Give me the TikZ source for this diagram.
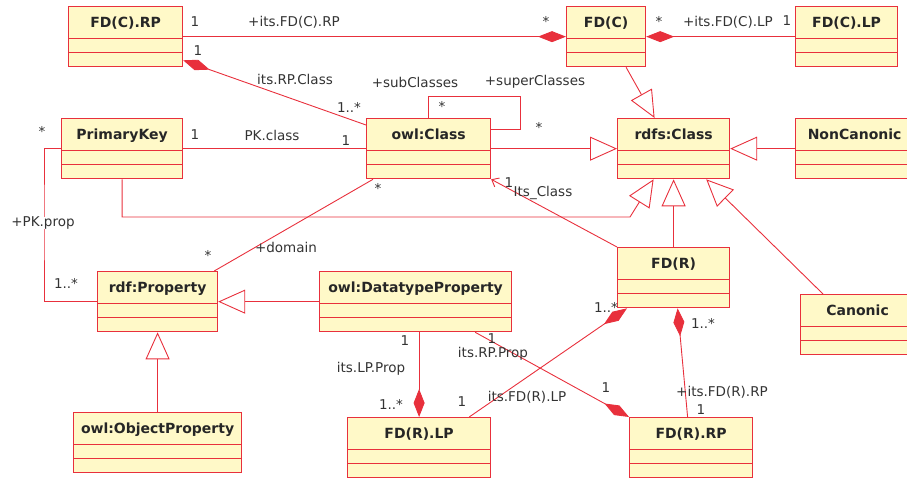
\documentclass[tikz,border=0pt]{standalone}
\usepackage{fontspec}
\setmainfont{DejaVu Sans}
\usetikzlibrary{arrows.meta,shapes.multipart}

\definecolor{umlrot}{RGB}{232,48,60}
\definecolor{umlgelb}{RGB}{255,249,200}
\newcommand{\kopf}[1]{\rule[-6.7pt]{0pt}{23.5pt}#1}

\begin{document}
\begin{tikzpicture}[x=1pt,y=-1pt,
	klasse/.style={draw=umlrot,line width=1.2pt,fill=umlgelb,rectangle split,rectangle split parts=3,
		rectangle split empty part height=6pt,rectangle split empty part depth=0pt,
		inner ysep=3.5pt,anchor=north west,text=black!85,font=\fontsize{14}{16}\selectfont\bfseries},
	linie/.style={draw=umlrot,line width=.9pt},
	komp/.style={linie,-{Diamond[length=28pt,width=11pt]}},
	vererbung/.style={linie,-{Triangle[length=27pt,width=24pt,fill=white]}},
	navi/.style={linie,-{Straight Barb[length=6pt,width=10pt]}},
	rolle/.style={inner sep=0pt,text=black!80,font=\fontsize{13.5}{15}\selectfont}]

\useasboundingbox (0,0) rectangle (907,480);

%-------------------------------------------------------------------------------
% Klassen
%-------------------------------------------------------------------------------
\node (fdcrp)		[klasse,minimum width=114pt] at (68,6)	{\kopf{FD(C).RP}\nodepart{two}\nodepart{three}};
\node (fdc)		[klasse,minimum width=79pt] at (566,6)	{\kopf{FD(C)}\nodepart{two}\nodepart{three}};
\node (fdclp)		[klasse,minimum width=102pt] at (795,6)	{\kopf{FD(C).LP}\nodepart{two}\nodepart{three}};

\node (primarykey)	[klasse,minimum width=121pt] at (61,118)	{\kopf{PrimaryKey}\nodepart{two}\nodepart{three}};
\node (owlclass)	[klasse,minimum width=124pt] at (366,118)	{\kopf{owl:Class}\nodepart{two}\nodepart{three}};
\node (rdfsclass)	[klasse,minimum width=112pt] at (617,118)	{\kopf{rdfs:Class}\nodepart{two}\nodepart{three}};
\node (noncanonic)	[klasse,minimum width=118pt] at (795,118)	{\kopf{NonCanonic}\nodepart{two}\nodepart{three}};

\node (fdr)		[klasse,minimum width=112pt] at (617,247)	{\kopf{FD(R)}\nodepart{two}\nodepart{three}};
\node (canonic)		[klasse,minimum width=114pt] at (800,294)	{\kopf{Canonic}\nodepart{two}\nodepart{three}};
\node (rdfproperty)	[klasse,minimum width=120pt] at (97,271)	{\kopf{rdf:Property}\nodepart{two}\nodepart{three}};
\node (dtprop)		[klasse,minimum width=192pt] at (319,271)	{\kopf{owl:DatatypeProperty}\nodepart{two}\nodepart{three}};

\node (objprop)		[klasse,minimum width=168pt] at (73,412)	{\kopf{owl:ObjectProperty}\nodepart{two}\nodepart{three}};
\node (fdrlp)		[klasse,minimum width=143pt] at (347,417)	{\kopf{FD(R).LP}\nodepart{two}\nodepart{three}};
\node (fdrrp)		[klasse,minimum width=123pt] at (629,417)	{\kopf{FD(R).RP}\nodepart{two}\nodepart{three}};

%-------------------------------------------------------------------------------
% FD(C)
%-------------------------------------------------------------------------------
\draw [komp] (fdcrp.east) -- (fdc.west);
\node (m1) [rolle] at (195,22) {1};
\node (r1) [rolle] at (294,22) {+its.FD(C).RP};
\node (m2) [rolle] at (546,21) {*};

\draw [komp] (fdclp.west) -- (fdc.east);
\node (m3) [rolle] at (659,21) {*};
\node (r2) [rolle] at (728,22) {+its.FD(C).LP};
\node (m4) [rolle] at (787,21) {1};

\draw [vererbung] ([xshift=20pt]fdc.south) -- ([xshift=-19pt]rdfsclass.north);

\draw [komp] ([yshift=-7pt]owlclass.north west) -- ([yshift=7pt]fdcrp.south east);
\node (m5) [rolle] at (198,51) {1};
\node (r3) [rolle] at (295,79) {its.RP.Class};
\node (m6) [rolle] at (349,107) {1..*};

%-------------------------------------------------------------------------------
% owl:Class
%-------------------------------------------------------------------------------
\coordinate (schleife) at (520,96);
\draw [linie] (owlclass.north) |- (schleife) |- ([yshift=19.5pt]owlclass.east);
\node (r4) [rolle] at (415,82) {+subClasses};
\node (r5) [rolle] at (535,82) {+superClasses};
\node (m7) [rolle] at (442,106) {*};
\node (m8) [rolle] at (539,127) {*};

\draw [vererbung] (owlclass.east) -- (rdfsclass.west);
\draw [vererbung] (noncanonic.west) -- (rdfsclass.east);

%-------------------------------------------------------------------------------
% PrimaryKey
%-------------------------------------------------------------------------------
\draw [linie] (primarykey.east) -- (owlclass.west);
\node (m9) [rolle] at (195,135) {1};
\node (r6) [rolle] at (272,135) {PK.class};
\node (m10) [rolle] at (346,141) {1};

\coordinate (pkknick) at (630,217);
\draw [vererbung] (primarykey.south) |- (pkknick) -- ([xshift=-20pt]rdfsclass.south);

\coordinate (pkecke) at (44,220);
\draw [linie] (primarykey.west) -| (pkecke) |- (rdfproperty.west);
\node (m11) [rolle] at (42,131) {*};
\node (r7) [rolle,fill=white] at (43,223) {+PK.prop};
\node (m12) [rolle] at (66,283) {1..*};

%-------------------------------------------------------------------------------
% Properties
%-------------------------------------------------------------------------------
\draw [linie] ([xshift=7pt]owlclass.south west) -- ([xshift=-4pt]rdfproperty.north east);
\node (m13) [rolle] at (378,188) {*};
\node (r8) [rolle] at (286,247) {+domain};
\node (m14) [rolle] at (208,255) {*};

\draw [vererbung] (dtprop.west) -- (rdfproperty.east);
\draw [vererbung] (objprop.north) -- (rdfproperty.south);

\draw [komp] (fdrlp.north |- dtprop.south) -- (fdrlp.north);
\node (m15) [rolle] at (405,341) {1};
\node (r9) [rolle] at (371,369) {its.LP.Prop};
\node (m16) [rolle] at (391,404) {1..*};

\draw [komp] ([xshift=-37pt]dtprop.south east) -- (fdrrp.north west);
\node (m17) [rolle] at (492,339) {1};
\node (r10) [rolle] at (493,354) {its.RP.Prop};
\node (m18) [rolle] at (606,388) {1};

%-------------------------------------------------------------------------------
% FD(R)
%-------------------------------------------------------------------------------
\draw [vererbung] (fdr.north) -- (rdfsclass.south);
\draw [vererbung] ([xshift=23pt]canonic.north west) -- ([xshift=-24pt]rdfsclass.south east);

\draw [navi] (fdr.north west) -- (owlclass.south east);
\node (m19) [rolle] at (509,183) {1};
\node (r11) [rolle] at (543,193) {Its\_Class};

\draw [komp] ([xshift=-22pt]fdrlp.north east) -- ([xshift=10pt]fdr.south west);
\node (m20) [rolle] at (606,307) {1..*};
\node (m21) [rolle] at (462,402) {1};
\node (r12) [rolle] at (527,397) {its.FD(R).LP};

\draw [komp] ([xshift=-3.5pt]fdrrp.north) -- ([xshift=4pt]fdr.south);
\node (m22) [rolle] at (703,323) {1..*};
\node (r13) [rolle] at (722,392) {+its.FD(R).RP};
\node (m23) [rolle] at (701,410) {1};
\end{tikzpicture}
\end{document}
